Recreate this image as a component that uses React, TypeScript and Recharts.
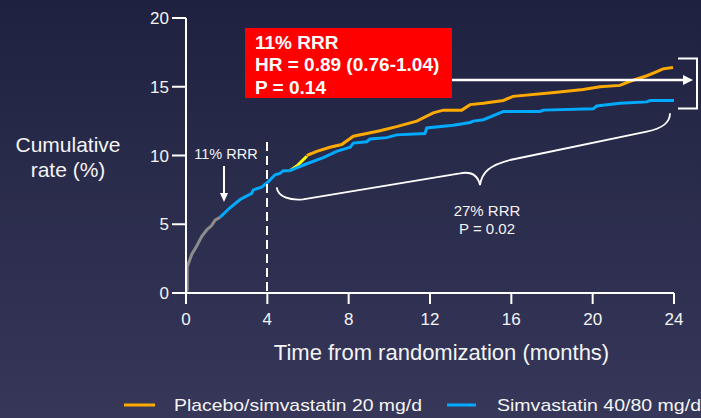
import React from "react";
import { LineChart, Line, XAxis, YAxis } from "recharts";

// months / cumulative rate (%)
const earlyMonths = [0, 0.06, 0.06, 0.28, 0.52, 0.77, 1.02, 1.26, 1.43, 1.67];
const earlyRates = [0, 0.2, 1.9, 2.8, 3.4, 4.1, 4.6, 4.9, 5.3, 5.5];

const sharedMonths = [1.67, 2.16, 2.66, 3.23, 3.31, 3.72, 4.05, 4.38, 4.62, 4.79, 5.11];
const sharedRates = [5.5, 6.2, 6.8, 7.25, 7.5, 7.7, 8.1, 8.6, 8.7, 8.9, 8.9];

const simvaMonths = [5.11, 5.94, 6.75, 7.41, 8.07, 8.23, 8.89, 9.05, 9.87, 10.36, 11.75, 11.84, 13.15, 13.97, 14.13, 14.63, 15.44, 15.61, 17.41, 17.57, 20.03, 20.2, 21.34, 22.66, 22.82, 24.0];
const simvaRates = [8.9, 9.4, 9.85, 10.3, 10.6, 10.9, 11.0, 11.2, 11.3, 11.5, 11.6, 12.0, 12.2, 12.4, 12.5, 12.6, 13.1, 13.2, 13.2, 13.3, 13.4, 13.6, 13.8, 13.9, 14.0, 14.0];

const placeboMonths = [5.94, 6.43, 7.08, 7.66, 8.23, 8.89, 9.54, 10.36, 11.35, 12.16, 12.66, 13.56, 13.97, 14.63, 15.61, 16.08, 18.25, 19.53, 20.36, 21.34, 21.84, 22.67, 23.16, 23.46, 23.95];
const placeboRates = [10.0, 10.3, 10.6, 10.8, 11.4, 11.6, 11.8, 12.1, 12.5, 13.1, 13.3, 13.3, 13.7, 13.8, 14.0, 14.3, 14.6, 14.8, 15.0, 15.1, 15.4, 15.8, 16.1, 16.3, 16.4];

const overlapMonths = [5.11, 5.5, 5.94];
const overlapRates = [8.9, 9.3, 9.95];

const xTicks = [0, 4, 8, 12, 16, 20, 24];
const yTicks = [0, 5, 10, 15, 20];

const seriesNames = ["Placebo/simvastatin 20 mg/d", "Simvastatin 40/80 mg/d"];
const boxLines = ["11% RRR", "HR = 0.89 (0.76-1.04)", "P = 0.14"];
const lateLabel = ["27% RRR", "P = 0.02"];
const earlyLabel = "11% RRR";
const xTitle = "Time from randomization (months)";
const yTitle = ["Cumulative", "rate (%)"];

const toData = (ts: number[], vs: number[]) => ts.map((t, i) => ({ t, v: vs[i] }));

const FONT = "'Liberation Sans', Arial, sans-serif";
const ORANGE = "#FFAA00";
const BLUE = "#00AAFF";
const GRAY = "#8C8C8C";
const YELLOW = "#FFFF00";
const TXT = "#F4F4F4";

export default function App() {
  return (
    <div
      style={{
        position: "absolute",
        left: 0,
        top: 0,
        width: 701,
        height: 418,
        background: "linear-gradient(180deg, #1E2140 0%, #2A2C4C 45%, #363759 100%)",
        fontFamily: FONT,
      }}
    >
      <LineChart
        width={701}
        height={418}
        margin={{ top: 18, right: 27, bottom: 0, left: 0 }}
      >
        <XAxis
          type="number"
          dataKey="t"
          domain={[0, 24]}
          ticks={xTicks}
          interval={0}
          height={125}
          allowDuplicatedCategory={false}
          axisLine={{ stroke: "#FFFFFF", strokeWidth: 2 }}
          tickLine={{ stroke: "#FFFFFF", strokeWidth: 2 }}
          tickSize={11}
          tickMargin={9}
          tick={{ fill: TXT, fontSize: 17, fontFamily: FONT }}
        />
        <YAxis
          type="number"
          dataKey="v"
          domain={[0, 20]}
          ticks={yTicks}
          interval={0}
          width={186}
          axisLine={{ stroke: "#FFFFFF", strokeWidth: 2 }}
          tickLine={{ stroke: "#FFFFFF", strokeWidth: 2 }}
          tickSize={14}
          tickMargin={3}
          tick={{ fill: TXT, fontSize: 17, fontFamily: FONT }}
        />
        <Line
          data={toData(placeboMonths, placeboRates)}
          dataKey="v"
          type="linear"
          stroke={ORANGE}
          strokeWidth={3}
          dot={false}
          isAnimationActive={false}
        />
        <Line
          data={toData(overlapMonths, overlapRates)}
          dataKey="v"
          type="linear"
          stroke={YELLOW}
          strokeWidth={3}
          dot={false}
          isAnimationActive={false}
        />
        <Line
          data={toData(simvaMonths, simvaRates)}
          dataKey="v"
          type="linear"
          stroke={BLUE}
          strokeWidth={3}
          dot={false}
          isAnimationActive={false}
        />
        <Line
          data={toData(sharedMonths, sharedRates)}
          dataKey="v"
          type="linear"
          stroke={BLUE}
          strokeWidth={3}
          dot={false}
          isAnimationActive={false}
        />
        <Line
          data={toData(earlyMonths, earlyRates)}
          dataKey="v"
          type="linear"
          stroke={GRAY}
          strokeWidth={3}
          dot={false}
          isAnimationActive={false}
        />
      </LineChart>

      <svg
        width={701}
        height={418}
        style={{ position: "absolute", left: 0, top: 0, pointerEvents: "none" }}
        fontFamily={FONT}
      >
        {/* dashed landmark at month 4 */}
        <line x1={267} y1={142} x2={267} y2={292} stroke="#FFFFFF" strokeWidth={2} strokeDasharray="9 5" />

        {/* red box */}
        <rect x={245} y={28} width={207} height={70} fill="#FF0000" />
        {boxLines.map((s, i) => (
          <text key={s} x={255} y={48.5 + i * 22.8} fill="#FFFFFF" fontSize={19} fontWeight="bold">
            {s}
          </text>
        ))}

        {/* long arrow */}
        <line x1={452} y1={80} x2={686} y2={80} stroke="#FFFFFF" strokeWidth={2.5} />
        <polygon points="693,80 683,75 683,85" fill="#FFFFFF" />

        {/* right bracket */}
        <polyline points="678,58.5 697,58.5 697,108.5 678,108.5" fill="none" stroke="#FFFFFF" strokeWidth={2} />

        {/* early label + arrow */}
        <text x={226} y={158.5} fill={TXT} fontSize={14.5} textAnchor="middle">
          {earlyLabel}
        </text>
        <line x1={224} y1={166} x2={224} y2={195} stroke="#FFFFFF" strokeWidth={2} />
        <polygon points="224,202 220,193 228,193" fill="#FFFFFF" />

        {/* curly brace */}
        <path
          d="M276.7,187.3 C278,197 290,200.5 303,199.3 L460,173.3 C472,171 478,176 480,185 C482,172 490,165 510,160 L646.7,131.7 C664,128 670,122 670,113.3"
          fill="none"
          stroke="#FFFFFF"
          strokeWidth={1.8}
        />
        {lateLabel.map((s, i) => (
          <text key={s} x={487} y={216 + i * 18.3} fill={TXT} fontSize={15} textAnchor="middle">
            {s}
          </text>
        ))}

        {/* axis titles */}
        <text x={441.5} y={360} fill={TXT} fontSize={22} textAnchor="middle">
          {xTitle}
        </text>
        {yTitle.map((s, i) => (
          <text key={s} x={68} y={152 + i * 25} fill={TXT} fontSize={21} textAnchor="middle">
            {s}
          </text>
        ))}

        {/* legend */}
        <line x1={124} y1={405} x2={155} y2={405} stroke={ORANGE} strokeWidth={3} />
        <text x={174} y={411} fill={TXT} fontSize={17} textLength={248} lengthAdjust="spacingAndGlyphs">
          {seriesNames[0]}
        </text>
        <line x1={447} y1={405} x2={476} y2={405} stroke={BLUE} strokeWidth={3} />
        <text x={497} y={411} fill={TXT} fontSize={17} textLength={204} lengthAdjust="spacingAndGlyphs">
          {seriesNames[1]}
        </text>
      </svg>
    </div>
  );
}
